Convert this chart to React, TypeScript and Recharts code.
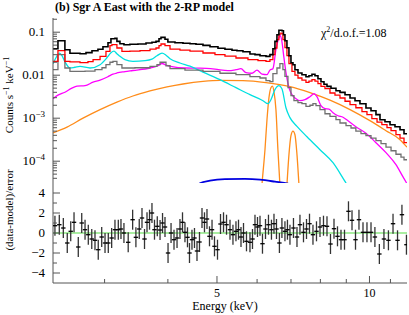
import React from 'react';
import { ComposedChart, Line, Scatter, XAxis, YAxis, ErrorBar, ReferenceLine } from 'recharts';

const FONT = '"Liberation Serif","Times New Roman",serif';
const FRAME = '#555';

const X_DOMAIN = [2.373, 11.86];
const Y_DOMAIN = [3.11e-5, 0.2138];
const R_DOMAIN = [-5, 5];

const xTicks = [3, 4, 5, 6, 7, 8, 9, 10, 11];
const xMajorTicks = [5, 10];
const xTickLabels = ['5', '10'];

const yTicks = [
  4e-5, 5e-5, 6e-5, 7e-5, 8e-5, 9e-5, 1e-4,
  2e-4, 3e-4, 4e-4, 5e-4, 6e-4, 7e-4, 8e-4, 9e-4, 1e-3,
  2e-3, 3e-3, 4e-3, 5e-3, 6e-3, 7e-3, 8e-3, 9e-3, 1e-2,
  2e-2, 3e-2, 4e-2, 5e-2, 6e-2, 7e-2, 8e-2, 9e-2, 0.1, 0.2,
];
const yMajorTicks = [1e-4, 1e-3, 1e-2, 0.1];
const yLabelBase = ['10', '10', '0.01', '0.1'];
const yLabelExp = ['\u22124', '\u22123', '', ''];

const rTicks = [-4, -3, -2, -1, 0, 1, 2, 3, 4];
const rMajorTicks = [-4, -2, 0, 2, 4];
const rTickLabels = ['\u22124', '\u22122', '0', '2', '4'];

// data (black histogram)
const blackE = [2.373, 2.427, 2.505, 2.563, 2.683, 2.757, 2.833, 2.911, 2.978, 3.047, 3.088, 3.145, 3.173, 3.217, 3.276, 3.366, 3.491, 3.622, 3.721, 3.79, 3.842, 3.877, 3.948, 4.0, 4.131, 4.284, 4.423, 4.545, 4.692, 4.844, 5.023, 5.185, 5.354, 5.476, 5.627, 5.809, 5.943, 6.08, 6.248, 6.361, 6.448, 6.507, 6.567, 6.626, 6.717, 6.764, 6.81, 6.872, 6.935, 6.999, 7.063, 7.127, 7.226, 7.357, 7.493, 7.595, 7.7, 7.806, 7.913, 8.022, 8.132, 8.244, 8.395, 8.588, 8.746, 8.948, 9.154, 9.364, 9.577, 9.842, 10.07, 10.3, 10.49, 10.73, 10.98, 11.23, 11.49, 11.7, 11.86];
const blackV = [0.0413, 0.0634, 0.0392, 0.0325, 0.0316, 0.0334, 0.0371, 0.0402, 0.046, 0.057, 0.0706, 0.0725, 0.0611, 0.054, 0.0512, 0.0526, 0.0531, 0.0561, 0.0585, 0.0611, 0.0706, 0.0757, 0.0687, 0.0592, 0.057, 0.0555, 0.054, 0.0526, 0.0493, 0.046, 0.0424, 0.0402, 0.0381, 0.0371, 0.0352, 0.0311, 0.03, 0.0284, 0.0274, 0.03, 0.0413, 0.0611, 0.0875, 0.1113, 0.1084, 0.0875, 0.0634, 0.0436, 0.0284, 0.0195, 0.01755, 0.0134, 0.01125, 0.01027, 0.00923, 0.00974, 0.01055, 0.00974, 0.00829, 0.00706, 0.00618, 0.00549, 0.00498, 0.00436, 0.00398, 0.00352, 0.00295, 0.00255, 0.00217, 0.00173, 0.00149, 0.00121, 0.000923, 0.000829, 0.000706, 0.000634, 0.00054, 0.000436, 0.000436];

// red histogram
const redE = [2.373, 2.427, 2.505, 2.563, 2.683, 2.782, 2.847, 2.939, 3.019, 3.074, 3.102, 3.173, 3.246, 3.366, 3.524, 3.688, 3.79, 3.842, 3.877, 3.948, 4.039, 4.226, 4.423, 4.692, 4.955, 5.185, 5.451, 5.757, 6.025, 6.248, 6.361, 6.448, 6.507, 6.567, 6.626, 6.687, 6.748, 6.81, 6.872, 6.935, 7.031, 7.127, 7.226, 7.357, 7.493, 7.595, 7.7, 7.806, 7.913, 8.022, 8.169, 8.357, 8.549, 8.746, 8.948, 9.154, 9.401, 9.665, 9.887, 10.11, 10.35, 10.58, 10.83, 11.03, 11.28, 11.49, 11.7, 11.86];
const redV = [0.0209, 0.0371, 0.0209, 0.0203, 0.0195, 0.0206, 0.0229, 0.0274, 0.0358, 0.0485, 0.0512, 0.0429, 0.0358, 0.0361, 0.0371, 0.0402, 0.0429, 0.0485, 0.0531, 0.0485, 0.0402, 0.0381, 0.0361, 0.0328, 0.03, 0.0277, 0.0251, 0.0229, 0.0217, 0.0209, 0.0229, 0.03, 0.0429, 0.0669, 0.0899, 0.0948, 0.0669, 0.0436, 0.0284, 0.0185, 0.01226, 0.01, 0.0086, 0.00765, 0.0068, 0.00725, 0.00786, 0.00725, 0.00634, 0.00549, 0.00485, 0.00385, 0.00343, 0.00295, 0.00248, 0.00206, 0.00175, 0.00142, 0.00121, 0.000974, 0.000807, 0.000706, 0.000601, 0.000512, 0.000413, 0.000343, 0.000269, 0.000269];

// grey histogram
const greyE = [2.373, 2.427, 2.505, 2.563, 2.745, 2.872, 2.965, 3.019, 3.074, 3.116, 3.173, 3.246, 3.444, 3.688, 3.807, 3.86, 3.913, 3.966, 4.039, 4.323, 4.692, 5.069, 5.451, 5.809, 6.08, 6.248, 6.361, 6.448, 6.567, 6.656, 6.748, 6.81, 6.904, 6.999, 7.095, 7.226, 7.357, 7.493, 7.63, 7.735, 7.842, 7.986, 8.169, 8.357, 8.588, 8.746, 8.989, 9.195, 9.401, 9.621, 9.842, 10.07, 10.3, 10.54, 10.78, 11.03, 11.28, 11.54, 11.7, 11.86];
const greyV = [0.0134, 0.03, 0.0147, 0.01226, 0.0124, 0.0134, 0.0149, 0.01755, 0.02, 0.0209, 0.01755, 0.0147, 0.0149, 0.016, 0.01755, 0.02, 0.02, 0.0166, 0.01416, 0.0131, 0.01226, 0.0111, 0.01027, 0.00923, 0.0086, 0.00745, 0.00706, 0.01083, 0.0147, 0.0185, 0.0134, 0.00938, 0.00512, 0.00334, 0.00255, 0.00229, 0.00217, 0.00188, 0.002, 0.00217, 0.00195, 0.00158, 0.00127, 0.0011, 0.000923, 0.000773, 0.000669, 0.000592, 0.000498, 0.000436, 0.000392, 0.000343, 0.0003, 0.000255, 0.000212, 0.000175, 0.000145, 0.000124, 0.000108, 0.000108];

// cyan component
const cyanE = [2.373, 2.405, 2.444, 2.472, 2.505, 2.563, 2.622, 2.683, 2.808, 2.939, 3.029, 3.088, 3.131, 3.173, 3.217, 3.291, 3.412, 3.605, 3.721, 3.807, 3.895, 3.966, 4.039, 4.226, 4.423, 4.692, 5.069, 5.451, 5.809, 6.163, 6.305, 6.39, 6.507, 6.626, 6.717, 6.841, 6.967, 7.193, 7.527, 7.986, 8.472, 8.989, 9.237];
const cyanV = [0.0185, 0.0255, 0.0325, 0.0284, 0.0206, 0.0147, 0.0153, 0.016, 0.0147, 0.01755, 0.0251, 0.0334, 0.0361, 0.0316, 0.0274, 0.0229, 0.0209, 0.0217, 0.0236, 0.0284, 0.0325, 0.0292, 0.0242, 0.0192, 0.0162, 0.01174, 0.00786, 0.00512, 0.00352, 0.00255, 0.00217, 0.00269, 0.0046, 0.0057, 0.00485, 0.00175, 0.00103, 0.000645, 0.000371, 0.000185, 9.23e-5, 3.11e-5, 1.95e-5];

// magenta component
const magE = [2.373, 2.427, 2.505, 2.586, 2.646, 2.745, 2.847, 2.939, 3.047, 3.116, 3.173, 3.291, 3.412, 3.688, 3.825, 3.895, 3.966, 4.075, 4.323, 4.628, 4.955, 5.257, 5.451, 5.577, 5.705, 5.862, 5.998, 6.135, 6.276, 6.361, 6.448, 6.537, 6.626, 6.672, 6.717, 6.779, 6.857, 6.935, 7.031, 7.16, 7.291, 7.459, 7.63, 7.771, 7.877, 8.022, 8.169, 8.319, 8.472, 8.667, 8.866, 9.07, 9.401, 9.842, 10.3, 10.78, 11.28, 11.64, 11.86];
const magV = [0.00284, 0.00343, 0.00402, 0.00498, 0.00555, 0.0057, 0.00687, 0.00765, 0.00923, 0.01055, 0.01125, 0.0121, 0.01286, 0.0147, 0.0166, 0.0187, 0.0171, 0.01577, 0.0147, 0.01456, 0.01379, 0.01273, 0.0134, 0.01416, 0.01143, 0.0111, 0.0131, 0.01055, 0.01027, 0.0131, 0.01416, 0.0392, 0.0745, 0.0829, 0.0601, 0.0255, 0.00974, 0.00512, 0.00352, 0.00284, 0.00255, 0.00269, 0.00316, 0.00371, 0.00316, 0.00195, 0.00166, 0.00162, 0.00134, 0.00114, 0.00105, 0.000875, 0.000634, 0.000448, 0.000269, 0.000158, 8.29e-5, 4.36e-5, 3.0e-5];

// orange continuum + two narrow lines
const orangeE = [2.373, 2.529, 2.72, 2.939, 3.173, 3.412, 3.688, 3.984, 4.284, 4.692, 5.069, 5.627, 6.248, 6.967, 7.63, 8.357, 9.154, 10.02, 10.78, 11.49, 11.86];
const orangeV = [0.000453, 0.000618, 0.001, 0.00158, 0.00236, 0.00328, 0.00429, 0.00532, 0.00624, 0.00717, 0.00757, 0.00745, 0.00669, 0.0054, 0.00392, 0.00262, 0.00158, 0.000875, 0.000512, 0.000316, 0.000212];
const feaE = [6.025, 6.135, 6.219, 6.276, 6.333, 6.39, 6.434, 6.478, 6.537, 6.596, 6.656, 6.779];
const feaV = [1e-6, 2.84e-5, 0.000185, 0.000923, 0.003, 0.00512, 0.00555, 0.00413, 0.00158, 0.000185, 2.84e-5, 1e-6];
const febE = [6.748, 6.872, 6.935, 6.999, 7.063, 7.127, 7.193, 7.258, 7.39];
const febV = [1e-6, 2.84e-5, 0.000142, 0.000392, 0.000498, 0.000413, 0.000142, 2.84e-5, 1e-6];

// blue component
const blueE = [4.545, 4.628, 4.844, 5.185, 5.679, 6.08, 6.507, 6.904, 7.031];
const blueV = [1.66e-5, 3.08e-5, 3.52e-5, 3.81e-5, 3.86e-5, 3.71e-5, 3.34e-5, 3.0e-5, 1.66e-5];

// residuals
const resE = [2.394, 2.442, 2.487, 2.532, 2.572, 2.611, 2.662, 2.704, 2.745, 2.786, 2.83, 2.872, 2.915, 2.961, 3.006, 3.051, 3.098, 3.145, 3.193, 3.232, 3.276,
  3.34, 3.408, 3.459, 3.512, 3.556, 3.597, 3.638, 3.68, 3.721, 3.764, 3.812, 3.86, 3.904, 3.948, 4.003, 4.058, 4.113, 4.17, 4.226, 4.275, 4.323, 4.373,
  4.413, 4.463, 4.514, 4.566, 4.618, 4.671, 4.724, 4.778, 4.833, 4.889, 4.944, 5.012, 5.081, 5.151,
  5.222, 5.305, 5.377, 5.451, 5.514, 5.577, 5.641, 5.718, 5.809, 5.876, 5.943, 6.011, 6.08, 6.149, 6.234, 6.319, 6.405, 6.479, 6.553, 6.641, 6.717, 6.81, 6.888, 6.967, 7.079, 7.193, 7.291, 7.409, 7.511, 7.614, 7.735, 7.86, 7.986, 8.114, 8.244, 8.376, 8.511, 8.647, 8.786, 8.927, 9.09, 9.237, 9.385, 9.534, 9.71, 9.887, 10.07, 10.25, 10.46, 10.68, 10.9, 11.13, 11.36, 11.59, 11.83];
const resV = [0.73, 0.83, 0.5, -1.0, 0.17, 1.07, -1.4, 1.0, 0.33, -0.17, -0.6, -0.73, -1.67, -0.4, -1.0, -1.0, -0.5, 0.33, 0.33, 0.4, 0,
  -0.93, 1.33, -0.43, 0.4, 1.5, -0.6, 1.07, 1.33, 2.0, 0.33, 0.67, 0.3, 1.0, 0.6, -2.0, 0, -0.67, -0.5, 0.4, 1.07, 0.07, -0.43,
  -2.0, -0.67, -0.5, -1.8, -0.9, 1.5, 1.07, 1.4, -0.33, 0.33, -1.33, -1.67, 0.9, 1.07,
  0.83, 0.33, -0.17, 0.17, 0.33, -0.4, 0, -0.83, -0.93, -0.6, 0.83, 0.6, 0.73, -1.07, 0.4, 0.83, 0.33, 0.93, 0.4, -1.0, 0.5, 0.17, 0.33, -0.17, 0.5, -0.4, 0.83, 0.07, 0.4, 0.93, -0.17, 0.17, 0.6, 0.73, 0.67, -1.1, 0.43, -0.33, -0.67, -0.67, 2.17, 1.27, -0.67, 1.33, 0.07, 0.07, 0.07, -0.4, -2.1, -0.6, -0.73, 0.93, -0.73, 1.83, -1.17];
const RES_ERR = 1;

const zip = (es: number[], vs: number[]) => es.map((e, i) => ({ e, v: vs[i] }));
const blackData = zip(blackE, blackV);
const redData = zip(redE, redV);
const greyData = zip(greyE, greyV);
const cyanData = zip(cyanE, cyanV);
const magData = zip(magE, magV);
const orangeData = zip(orangeE, orangeV);
const feaData = zip(feaE, feaV);
const febData = zip(febE, febV);
const blueData = zip(blueE, blueV);
const resData = resE.map((e, i) => ({ e, r: resV[i], err: RES_ERR }));

const BottomXTick = (p: any) => {
  const i = xMajorTicks.indexOf(p.payload.value);
  const len = i >= 0 ? 7 : 4;
  return (
    <g>
      <line x1={p.x} x2={p.x} y1={p.y} y2={p.y - len} stroke={FRAME} strokeWidth={1} />
      {p.labels && i >= 0 ? (
        <text x={p.x} y={p.y + 14} textAnchor="middle" fontFamily={FONT} fontSize={12} fill="#000">{xTickLabels[i]}</text>
      ) : null}
    </g>
  );
};
const TopXTick = (p: any) => {
  const i = xMajorTicks.indexOf(p.payload.value);
  const len = i >= 0 ? 7 : 4;
  return <line x1={p.x} x2={p.x} y1={p.y} y2={p.y + len} stroke={FRAME} strokeWidth={1} />;
};
const LogLeftTick = (p: any) => {
  const i = yMajorTicks.indexOf(p.payload.value);
  const len = i >= 0 ? 7 : 4;
  return (
    <g>
      <line x1={p.x} x2={p.x + len} y1={p.y} y2={p.y} stroke={FRAME} strokeWidth={1} />
      {i >= 0 ? (
        <text x={p.x - 8} y={p.y + 4} textAnchor="end" fontFamily={FONT} fontSize={13} fill="#000">
          {yLabelBase[i]}
          {yLabelExp[i] ? <tspan dy={-5} fontSize={9}>{yLabelExp[i]}</tspan> : null}
        </text>
      ) : null}
    </g>
  );
};
const LogRightTick = (p: any) => {
  const i = yMajorTicks.indexOf(p.payload.value);
  const len = i >= 0 ? 7 : 4;
  return <line x1={p.x} x2={p.x - len} y1={p.y} y2={p.y} stroke={FRAME} strokeWidth={1} />;
};
const ResLeftTick = (p: any) => {
  const i = rMajorTicks.indexOf(p.payload.value);
  const len = i >= 0 ? 7 : 4;
  return (
    <g>
      <line x1={p.x} x2={p.x + len} y1={p.y} y2={p.y} stroke={FRAME} strokeWidth={1} />
      {i >= 0 ? (
        <text x={p.x - 8} y={p.y + 4} textAnchor="end" fontFamily={FONT} fontSize={13} fill="#000">{rTickLabels[i]}</text>
      ) : null}
    </g>
  );
};
const ResRightTick = (p: any) => {
  const i = rMajorTicks.indexOf(p.payload.value);
  const len = i >= 0 ? 7 : 4;
  return <line x1={p.x} x2={p.x - len} y1={p.y} y2={p.y} stroke={FRAME} strokeWidth={1} />;
};
const ResPoint = (p: any) => (
  <line x1={p.cx - 2.2} x2={p.cx + 2.2} y1={p.cy} y2={p.cy} stroke="#000" strokeWidth={1.3} />
);

const common = { tickSize: 0, tickMargin: 0, tickLine: false, interval: 0 as const, axisLine: { stroke: FRAME, strokeWidth: 1 } };

export default function App() {
  return (
    <div style={{ position: 'absolute', left: 0, top: 0, width: 409, height: 315, background: '#fff' }}>
      <div style={{ position: 'absolute', left: 0, top: 0 }}>
        <ComposedChart width={409} height={184} margin={{ top: 18, right: 2, bottom: 1, left: 0 }}>
          <XAxis dataKey="e" type="number" scale="log" domain={X_DOMAIN} allowDataOverflow ticks={xTicks} height={0} {...common} tick={(p: any) => <BottomXTick {...p} />} />
          <XAxis xAxisId="top" orientation="top" dataKey="e" type="number" scale="log" domain={X_DOMAIN} allowDataOverflow ticks={xTicks} height={0} {...common} tick={(p: any) => <TopXTick {...p} />} />
          <YAxis type="number" scale="log" domain={Y_DOMAIN} allowDataOverflow ticks={yTicks} width={53} {...common} tick={(p: any) => <LogLeftTick {...p} />} />
          <YAxis yAxisId="right" orientation="right" type="number" scale="log" domain={Y_DOMAIN} allowDataOverflow ticks={yTicks} width={0} {...common} tick={(p: any) => <LogRightTick {...p} />} />
          <Line data={orangeData} dataKey="v" type="monotone" stroke="#ff8c1a" strokeWidth={1.3} dot={false} isAnimationActive={false} />
          <Line data={feaData} dataKey="v" type="monotone" stroke="#ff8c1a" strokeWidth={1.3} dot={false} isAnimationActive={false} />
          <Line data={febData} dataKey="v" type="monotone" stroke="#ff8c1a" strokeWidth={1.3} dot={false} isAnimationActive={false} />
          <Line data={blueData} dataKey="v" type="monotone" stroke="#0000e0" strokeWidth={1.8} dot={false} isAnimationActive={false} />
          <Line data={magData} dataKey="v" type="monotone" stroke="#ff00ff" strokeWidth={1.3} dot={false} isAnimationActive={false} />
          <Line data={cyanData} dataKey="v" type="monotone" stroke="#00e0e0" strokeWidth={1.3} dot={false} isAnimationActive={false} />
          <Line data={greyData} dataKey="v" type="stepAfter" stroke="#707070" strokeWidth={1.3} dot={false} isAnimationActive={false} />
          <Line data={redData} dataKey="v" type="stepAfter" stroke="#ff0000" strokeWidth={1.3} dot={false} isAnimationActive={false} />
          <Line data={blackData} dataKey="v" type="stepAfter" stroke="#000000" strokeWidth={1.6} dot={false} isAnimationActive={false} />
        </ComposedChart>
      </div>
      <div style={{ position: 'absolute', left: 0, top: 183 }}>
        <ComposedChart width={409} height={132} margin={{ top: 0, right: 2, bottom: 0, left: 0 }}>
          <XAxis dataKey="e" type="number" scale="log" domain={X_DOMAIN} allowDataOverflow ticks={xTicks} height={32} {...common} tick={(p: any) => <BottomXTick {...p} labels />} />
          <XAxis xAxisId="top" orientation="top" dataKey="e" type="number" scale="log" domain={X_DOMAIN} allowDataOverflow ticks={xTicks} height={0} {...common} tick={(p: any) => <TopXTick {...p} />} />
          <YAxis dataKey="r" type="number" domain={R_DOMAIN} allowDataOverflow ticks={rTicks} width={53} {...common} tick={(p: any) => <ResLeftTick {...p} />} />
          <YAxis yAxisId="right" orientation="right" type="number" domain={R_DOMAIN} allowDataOverflow ticks={rTicks} width={0} {...common} tick={(p: any) => <ResRightTick {...p} />} />
          <ReferenceLine y={0} stroke="#55dd44" strokeWidth={1.2} />
          <Scatter data={resData} dataKey="r" shape={(p: any) => <ResPoint {...p} />} isAnimationActive={false}>
            <ErrorBar dataKey="err" direction="y" width={0} stroke="#333" strokeWidth={1.3} isAnimationActive={false} />
          </Scatter>
        </ComposedChart>
      </div>
      <svg width={409} height={315} style={{ position: 'absolute', left: 0, top: 0, pointerEvents: 'none' }}>
        <text x={55} y={11} fontFamily={FONT} fontSize={12} fontWeight="bold" fill="#000">(b) Sgr A East with the 2-RP model</text>
        <text x={321} y={37} fontFamily={FONT} fontSize={12} fill="#000">
          χ<tspan dy={-5} fontSize={8}>2</tspan><tspan dy={5}>/d.o.f.=1.08</tspan>
        </text>
        <text transform="translate(13,95) rotate(-90)" textAnchor="middle" fontFamily={FONT} fontSize={11} fill="#000">
          Counts s<tspan dy={-4} fontSize={8}>−1</tspan><tspan dy={4}> keV</tspan><tspan dy={-4} fontSize={8}>−1</tspan>
        </text>
        <text transform="translate(13,210) rotate(-90)" textAnchor="middle" fontFamily={FONT} fontSize={11} fill="#000">(data-model)/error</text>
        <text x={225} y={310} textAnchor="middle" fontFamily={FONT} fontSize={12} fill="#000">Energy (keV)</text>
      </svg>
    </div>
  );
}
